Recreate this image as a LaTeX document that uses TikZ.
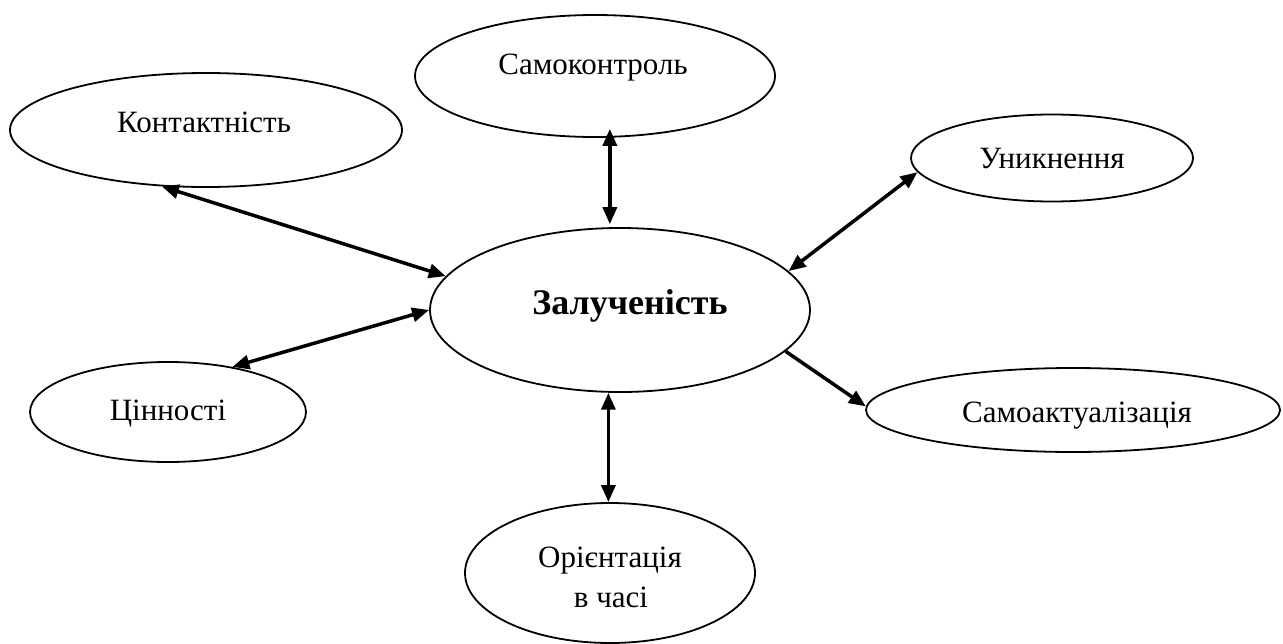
\documentclass[tikz,border=0pt]{standalone}
\usepackage{fontspec}
\setmainfont{Liberation Serif}
\usetikzlibrary{shapes.geometric,arrows.meta}
\begin{document}
\begin{tikzpicture}[x=1pt,y=-1pt,
  oval/.style={draw, ellipse, line width=1.8pt, inner sep=0pt},
  lbl/.style={anchor=base, font=\fontsize{31}{36}\selectfont, inner sep=0pt},
  biarrow/.style={line width=3.5pt, {Triangle[length=17pt,width=14pt]}-{Triangle[length=17pt,width=14pt]}},
  onearrow/.style={line width=3.5pt, -{Triangle[length=17pt,width=14pt]}}]
\useasboundingbox (0,0) rectangle (1283,643);

\node[oval, minimum width=360pt, minimum height=122pt] (samo) at (595,76) {};
\node[oval, minimum width=392pt, minimum height=114pt] (kont) at (206,130) {};
\node[oval, minimum width=282pt, minimum height=87pt] (unyk) at (1052,158) {};
\node[oval, minimum width=380pt, minimum height=164pt] (zal) at (620,310) {};
\node[oval, minimum width=276pt, minimum height=100pt] (tsin) at (168,412) {};
\node[oval, minimum width=414pt, minimum height=84pt] (akt) at (1073,410) {};
\node[oval, minimum width=290pt, minimum height=140pt] (ori) at (610,573) {};

\node[lbl] (samoT) at (593,74) {Самоконтроль};
\node[lbl] (kontT) at (204,132) {Контактність};
\node[lbl] (unykT) at (1052,168) {Уникнення};
\node[lbl, font=\fontsize{36}{40}\selectfont\bfseries] (zalT) at (630,314) {Залученість};
\node[lbl] (tsinT) at (168,420) {Цінності};
\node[lbl] (aktT) at (1077,422) {Самоактуалізація};
\node[lbl] (oriT1) at (610,567) {Орієнтація};
\node[lbl] (oriT2) at (611,607) {в часі};

\draw[biarrow] (kont.232) -- (zal.169);
\draw[biarrow, shorten <=3pt, shorten >=-9pt] (zal.97) -- (zal.97 |- samo.south);
\draw[biarrow] (unyk.186) -- (zal.13);
\draw[biarrow] (tsin.35) -- (zal.180);
\draw[onearrow] (zal.346) -- (akt.179);
\draw[biarrow] (zal.262) -- (zal.262 |- ori.north);
\end{tikzpicture}
\end{document}
